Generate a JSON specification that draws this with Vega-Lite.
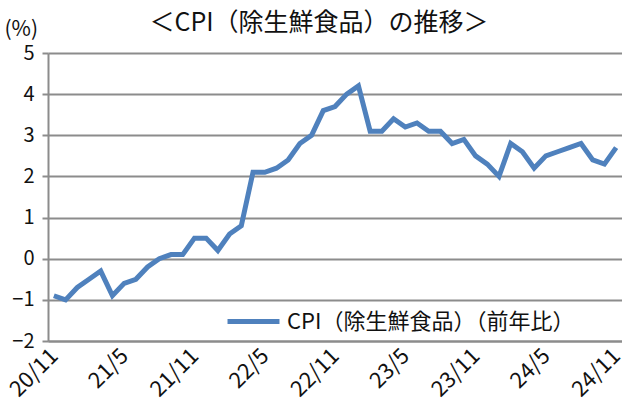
{
  "$schema": "https://vega.github.io/schema/vega-lite/v6.json",
  "width": 574,
  "height": 288,
  "autosize": {"type": "none"},
  "padding": {"left": 48, "top": 53, "right": 0, "bottom": 65},
  "background": "white",
  "config": {
    "font": "Noto Sans CJK JP",
    "view": {"stroke": null}
  },
  "title": {
    "text": "＜CPI（除生鮮食品）の推移＞",
    "fontSize": 25,
    "fontWeight": "normal",
    "color": "#111",
    "anchor": "middle",
    "dx": -16,
    "dy": 36,
    "offset": 18
  },
  "data": {
    "values": [
      {"m": "20/11", "v": -0.9, "s": "CPI（除生鮮食品）（前年比）"},
      {"m": "20/12", "v": -1.0, "s": "CPI（除生鮮食品）（前年比）"},
      {"m": "21/1", "v": -0.7, "s": "CPI（除生鮮食品）（前年比）"},
      {"m": "21/2", "v": -0.5, "s": "CPI（除生鮮食品）（前年比）"},
      {"m": "21/3", "v": -0.3, "s": "CPI（除生鮮食品）（前年比）"},
      {"m": "21/4", "v": -0.9, "s": "CPI（除生鮮食品）（前年比）"},
      {"m": "21/5", "v": -0.6, "s": "CPI（除生鮮食品）（前年比）"},
      {"m": "21/6", "v": -0.5, "s": "CPI（除生鮮食品）（前年比）"},
      {"m": "21/7", "v": -0.2, "s": "CPI（除生鮮食品）（前年比）"},
      {"m": "21/8", "v": 0.0, "s": "CPI（除生鮮食品）（前年比）"},
      {"m": "21/9", "v": 0.1, "s": "CPI（除生鮮食品）（前年比）"},
      {"m": "21/10", "v": 0.1, "s": "CPI（除生鮮食品）（前年比）"},
      {"m": "21/11", "v": 0.5, "s": "CPI（除生鮮食品）（前年比）"},
      {"m": "21/12", "v": 0.5, "s": "CPI（除生鮮食品）（前年比）"},
      {"m": "22/1", "v": 0.2, "s": "CPI（除生鮮食品）（前年比）"},
      {"m": "22/2", "v": 0.6, "s": "CPI（除生鮮食品）（前年比）"},
      {"m": "22/3", "v": 0.8, "s": "CPI（除生鮮食品）（前年比）"},
      {"m": "22/4", "v": 2.1, "s": "CPI（除生鮮食品）（前年比）"},
      {"m": "22/5", "v": 2.1, "s": "CPI（除生鮮食品）（前年比）"},
      {"m": "22/6", "v": 2.2, "s": "CPI（除生鮮食品）（前年比）"},
      {"m": "22/7", "v": 2.4, "s": "CPI（除生鮮食品）（前年比）"},
      {"m": "22/8", "v": 2.8, "s": "CPI（除生鮮食品）（前年比）"},
      {"m": "22/9", "v": 3.0, "s": "CPI（除生鮮食品）（前年比）"},
      {"m": "22/10", "v": 3.6, "s": "CPI（除生鮮食品）（前年比）"},
      {"m": "22/11", "v": 3.7, "s": "CPI（除生鮮食品）（前年比）"},
      {"m": "22/12", "v": 4.0, "s": "CPI（除生鮮食品）（前年比）"},
      {"m": "23/1", "v": 4.2, "s": "CPI（除生鮮食品）（前年比）"},
      {"m": "23/2", "v": 3.1, "s": "CPI（除生鮮食品）（前年比）"},
      {"m": "23/3", "v": 3.1, "s": "CPI（除生鮮食品）（前年比）"},
      {"m": "23/4", "v": 3.4, "s": "CPI（除生鮮食品）（前年比）"},
      {"m": "23/5", "v": 3.2, "s": "CPI（除生鮮食品）（前年比）"},
      {"m": "23/6", "v": 3.3, "s": "CPI（除生鮮食品）（前年比）"},
      {"m": "23/7", "v": 3.1, "s": "CPI（除生鮮食品）（前年比）"},
      {"m": "23/8", "v": 3.1, "s": "CPI（除生鮮食品）（前年比）"},
      {"m": "23/9", "v": 2.8, "s": "CPI（除生鮮食品）（前年比）"},
      {"m": "23/10", "v": 2.9, "s": "CPI（除生鮮食品）（前年比）"},
      {"m": "23/11", "v": 2.5, "s": "CPI（除生鮮食品）（前年比）"},
      {"m": "23/12", "v": 2.3, "s": "CPI（除生鮮食品）（前年比）"},
      {"m": "24/1", "v": 2.0, "s": "CPI（除生鮮食品）（前年比）"},
      {"m": "24/2", "v": 2.8, "s": "CPI（除生鮮食品）（前年比）"},
      {"m": "24/3", "v": 2.6, "s": "CPI（除生鮮食品）（前年比）"},
      {"m": "24/4", "v": 2.2, "s": "CPI（除生鮮食品）（前年比）"},
      {"m": "24/5", "v": 2.5, "s": "CPI（除生鮮食品）（前年比）"},
      {"m": "24/6", "v": 2.6, "s": "CPI（除生鮮食品）（前年比）"},
      {"m": "24/7", "v": 2.7, "s": "CPI（除生鮮食品）（前年比）"},
      {"m": "24/8", "v": 2.8, "s": "CPI（除生鮮食品）（前年比）"},
      {"m": "24/9", "v": 2.4, "s": "CPI（除生鮮食品）（前年比）"},
      {"m": "24/10", "v": 2.3, "s": "CPI（除生鮮食品）（前年比）"},
      {"m": "24/11", "v": 2.7, "s": "CPI（除生鮮食品）（前年比）"}
    ]
  },
  "mark": {"type": "line", "strokeWidth": 5, "strokeJoin": "miter", "strokeCap": "butt"},
  "encoding": {
    "x": {
      "field": "m",
      "type": "ordinal",
      "sort": null,
      "scale": {"padding": 0.5},
      "axis": {
        "title": null,
        "values": ["20/11", "21/5", "21/11", "22/5", "22/11", "23/5", "23/11", "24/5", "24/11"],
        "labelAngle": -45,
        "labelAlign": "right",
        "labelBaseline": "middle",
        "labelFontSize": 22,
        "labelColor": "#111",
        "labelPadding": 11,
        "ticks": false,
        "grid": false,
        "domainColor": "#8c8c8c",
        "domainWidth": 2
      }
    },
    "y": {
      "field": "v",
      "type": "quantitative",
      "scale": {"domain": [-2, 5], "nice": false, "zero": false},
      "axis": {
        "values": [-2, -1, 0, 1, 2, 3, 4, 5],
        "title": "(%)",
        "titleAngle": 0,
        "titleAlign": "left",
        "titleBaseline": "middle",
        "titleX": -44,
        "titleY": -24,
        "titleFontSize": 21,
        "titleFontWeight": "normal",
        "titleColor": "#111",
        "labelFontSize": 20,
        "labelColor": "#111",
        "labelPadding": 8,
        "tickSize": 6,
        "tickColor": "#8c8c8c",
        "tickWidth": 2,
        "domainColor": "#8c8c8c",
        "domainWidth": 2,
        "gridColor": "#8c8c8c",
        "gridWidth": 2
      }
    },
    "color": {
      "field": "s",
      "type": "nominal",
      "scale": {"range": ["#4F81BD"]},
      "legend": {
        "title": null,
        "orient": "none",
        "legendX": 177,
        "legendY": 240,
        "symbolType": "stroke",
        "symbolSize": 2700,
        "symbolStrokeWidth": 5,
        "labelFontSize": 22,
        "labelLimit": 0,
        "labelColor": "#111",
        "labelOffset": 5,
        "padding": 0
      }
    }
  }
}
